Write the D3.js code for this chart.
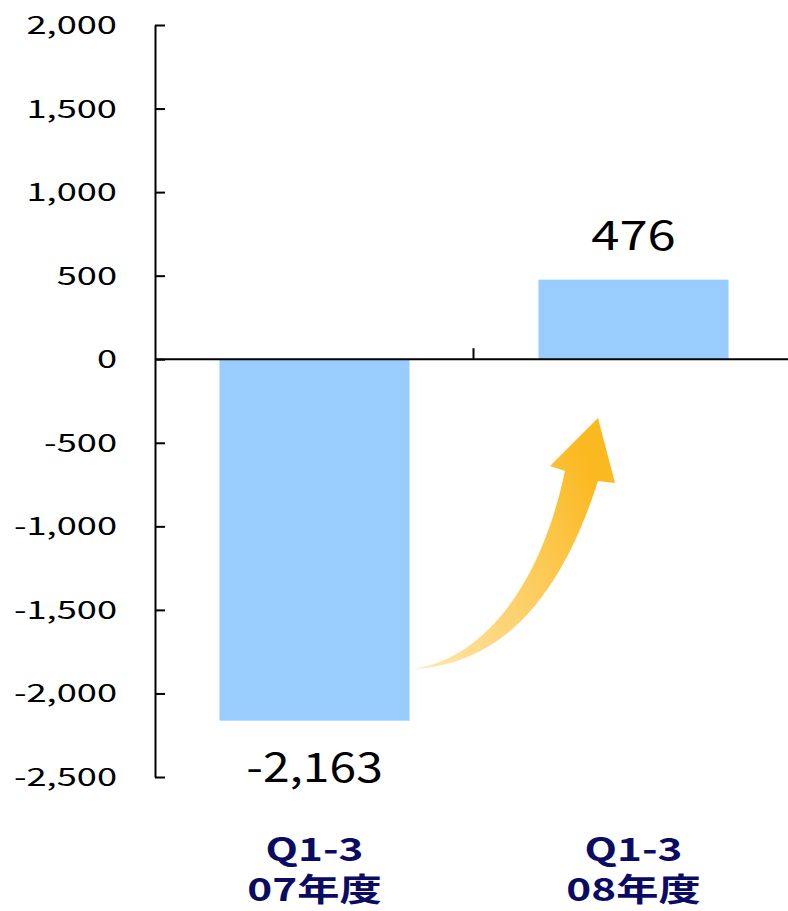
<!DOCTYPE html>
<html>
<head>
<meta charset="utf-8">
<script src="https://cdn.jsdelivr.net/npm/d3@7"></script>
<style>
  body { margin: 0; background: #fff; }
  svg text { font-family: "Noto Sans CJK JP", "Noto Sans", sans-serif; }
</style>
</head>
<body>
<div id="chart"></div>
<script>
// data
var categories = ["Q1-3\n07年度", "Q1-3\n08年度"];
var values = [-2163, 476];
var valueLabels = ["-2,163", "476"];
var yTicks = [2000, 1500, 1000, 500, 0, -500, -1000, -1500, -2000, -2500];

var width = 788, height = 911;

var svg = d3.select("#chart").append("svg")
    .attr("width", width)
    .attr("height", height);

// scales
var x = d3.scaleBand()
    .domain(categories)
    .range([155, 793])
    .paddingInner(0.404)
    .paddingOuter(0.202);

var y = d3.scaleLinear()
    .domain([-2500, 2000])
    .range([777, 25]);

// plain hyphen for negatives, like the original
var format = function(d) { return d3.format(",")(d).replace("\u2212", "-"); };

// the original font is much wider than what we have, so stretch text sideways
function wideText(parent, px, py, k) {
  return parent.append("g")
      .attr("transform", "translate(" + px + "," + py + ") scale(" + k + ",1)")
    .append("text");
}

// bars
svg.append("g")
  .selectAll("rect")
  .data(values)
  .enter().append("rect")
    .attr("x", function(d, i) { return x(categories[i]); })
    .attr("y", function(d) { return y(Math.max(0, d)); })
    .attr("width", x.bandwidth())
    .attr("height", function(d) { return Math.abs(y(d) - y(0)); })
    .attr("fill", "#99ccff");

// y axis
var yAxis = svg.append("g")
    .attr("transform", "translate(155,0)")
    .call(d3.axisRight(y).tickValues(yTicks).tickSize(10).tickSizeOuter(0).tickFormat(""));
yAxis.select(".domain").attr("stroke", "#000").attr("stroke-width", 2);
yAxis.selectAll(".tick line").attr("stroke", "#000").attr("stroke-width", 2);

// y tick labels
var tickG = svg.append("g");
yTicks.forEach(function(d) {
  wideText(tickG, 117, y(d) + 9, 1.45)
      .attr("text-anchor", "end")
      .attr("font-size", 25)
      .attr("fill", "#000")
      .text(format(d));
});

// zero line
svg.append("line")
    .attr("x1", 155).attr("x2", 788)
    .attr("y1", y(0)).attr("y2", y(0))
    .attr("stroke", "#000").attr("stroke-width", 2);

// category separator tick
var sepX = x(categories[1]) - x.step() * x.paddingInner() / 2 - 0.5;
svg.append("line")
    .attr("x1", sepX).attr("x2", sepX)
    .attr("y1", y(0)).attr("y2", y(0) - 11)
    .attr("stroke", "#000").attr("stroke-width", 2);

// value labels
var valG = svg.append("g");
values.forEach(function(d, i) {
  wideText(valG, x(categories[i]) + x.bandwidth() / 2, d < 0 ? y(d) + 61 : y(d) - 30, d < 0 ? 1.2 : 1.27)
      .attr("text-anchor", "middle")
      .attr("font-size", 40)
      .attr("fill", "#000")
      .text(valueLabels[i]);
});

// category labels (two lines in one text)
var catG = svg.append("g");
categories.forEach(function(c, i) {
  var t = wideText(catG, x(c) + x.bandwidth() / 2, 861, 1.32)
      .attr("text-anchor", "middle")
      .attr("font-size", 32)
      .attr("font-weight", "bold")
      .attr("fill", "#0b0b62");
  c.split("\n").forEach(function(line, j) {
    t.append("tspan")
      .attr("x", 0)
      .attr("y", j * 40)
      .text(line);
  });
});

// gradient arrow
var defs = svg.append("defs");
var grad = defs.append("linearGradient")
    .attr("id", "arrowGrad")
    .attr("x1", "0%").attr("y1", "100%")
    .attr("x2", "100%").attr("y2", "40%");
grad.append("stop").attr("offset", "0%").attr("stop-color", "#fee8b4");
grad.append("stop").attr("offset", "100%").attr("stop-color", "#fbb921");

var arrow = d3.path();
arrow.moveTo(413, 669);
arrow.bezierCurveTo(480, 660, 540, 590, 565, 471);
arrow.lineTo(550, 466);
arrow.lineTo(598, 418);
arrow.lineTo(615, 483);
arrow.lineTo(598, 481);
arrow.bezierCurveTo(560, 600, 500, 665, 413, 669);
arrow.closePath();

svg.append("path")
    .attr("d", arrow.toString())
    .attr("fill", "url(#arrowGrad)");
</script>
</body>
</html>
